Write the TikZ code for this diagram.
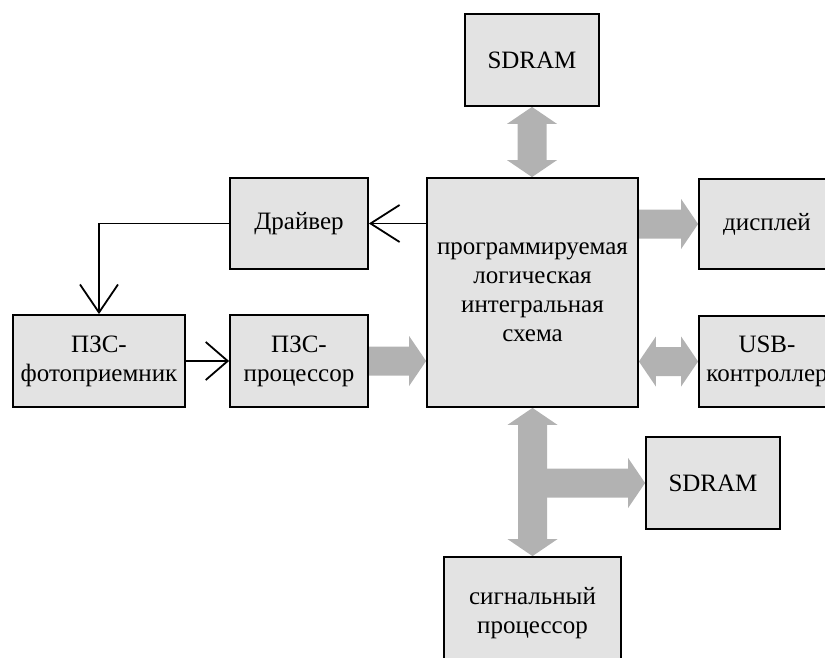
\documentclass[tikz,border=0pt]{standalone}
\usepackage{fontspec}
\setmainfont{Liberation Serif}
\usetikzlibrary{calc,arrows.meta}
\definecolor{boxfill}{RGB}{227,227,227}
\definecolor{busgray}{RGB}{178,178,178}
\pgfdeclarelayer{bg}
\pgfsetlayers{bg,main}

% wide gray bus arrow with one head, from #1 to #2
\newcommand\fatarrow[2]{%
  \coordinate (hb) at ($(#2)!17pt!(#1)$);
  \fill[busgray] ($(#1)!14.5pt!90:(#2)$) -- ($(hb)!14.5pt!90:(#2)$)
    -- ($(hb)!25pt!90:(#2)$) -- (#2) -- ($(hb)!25pt!-90:(#2)$)
    -- ($(hb)!14.5pt!-90:(#2)$) -- ($(#1)!14.5pt!-90:(#2)$) -- cycle;}

% wide gray bus arrow with heads at both ends
\newcommand\fatdarrow[2]{%
  \coordinate (ha) at ($(#1)!17pt!(#2)$);
  \coordinate (hb) at ($(#2)!17pt!(#1)$);
  \fill[busgray] (#1) -- ($(ha)!25pt!90:(#2)$) -- ($(ha)!14.5pt!90:(#2)$)
    -- ($(hb)!14.5pt!90:(#2)$) -- ($(hb)!25pt!90:(#2)$) -- (#2)
    -- ($(hb)!25pt!-90:(#2)$) -- ($(hb)!14.5pt!-90:(#2)$)
    -- ($(ha)!14.5pt!-90:(#2)$) -- ($(ha)!25pt!-90:(#2)$) -- cycle;}

\begin{document}
\begin{tikzpicture}[x=1pt, y=-1pt,
  box/.style={draw, line width=1.8pt, fill=boxfill, rectangle, align=center,
    inner sep=0pt, font=\fontsize{25}{29}\selectfont},
  wire/.style={line width=1.8pt}]
\useasboundingbox (0,0) rectangle (825,658);
\clip (0,0) rectangle (825,658);

% blocks
\node[box, minimum width=134pt, minimum height=92pt] (ramtop) at (532,60) {SDRAM};
\node[box, minimum width=211pt, minimum height=229pt] (pl) at (532.5,292.5)
  {программируемая\\логическая\\интегральная\\схема};
\node[box, minimum width=138pt, minimum height=91pt] (drv) at (299,223.5) {Драйвер};
\node[box, minimum width=136pt, minimum height=90pt] (disp) at (767,224) {дисплей};
\node[box, minimum width=172pt, minimum height=92pt] (foto) at (99,361) {ПЗС-\\фотоприемник};
\node[box, minimum width=138pt, minimum height=92pt] (proc) at (299,361) {ПЗС-\\процессор};
\node[box, minimum width=136pt, minimum height=91pt] (usb) at (767,361.5) {USB-\\контроллер};
\node[box, minimum width=134pt, minimum height=92pt] (rambot) at (713,483) {SDRAM};
\node[box, minimum width=177pt, minimum height=113pt] (sig) at (532.5,613.5)
  {сигнальный\\процессор};

% bus arrows
\begin{pgfonlayer}{bg}
  \coordinate (topin) at (ramtop.south |- pl.north);
  \fatdarrow{ramtop.south}{topin}
  \coordinate (dispout) at (pl.east |- disp.west);
  \fatarrow{dispout}{disp.west}
  \coordinate (usbout) at (pl.east |- usb.west);
  \fatdarrow{usbout}{usb.west}
  \coordinate (procin) at (proc.east -| pl.west);
  \fatarrow{proc.east}{procin}
  \coordinate (sigin) at (pl.south |- sig.north);
  \fatdarrow{pl.south}{sigin}
  \coordinate (branch) at (pl.south |- rambot.west);
  \fatarrow{branch}{rambot.west}
\end{pgfonlayer}

% control lines
\draw[wire, -{Straight Barb[length=29pt,width=37pt]}] (pl.west |- drv.east) -- (drv.east);
\draw[wire, -{Straight Barb[length=28pt,width=38pt]}] (drv.west) -| (foto.north);
\draw[wire, -{Straight Barb[length=22pt,width=38pt]}] (foto.east) -- (proc.west);
\end{tikzpicture}
\end{document}
